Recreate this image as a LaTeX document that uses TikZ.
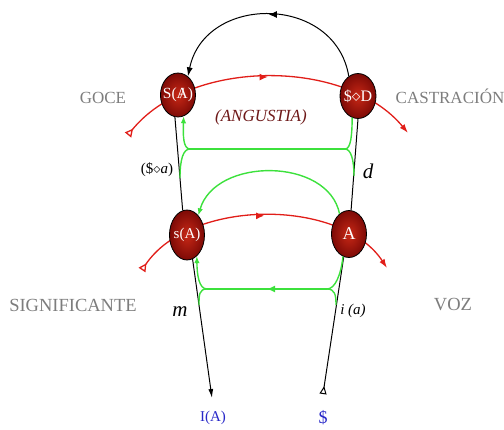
\documentclass[tikz,border=0pt]{standalone}
\usepackage{fontspec}
\setmainfont{Liberation Serif}
\usetikzlibrary{arrows.meta,shapes.geometric,decorations.markings}
\definecolor{rline}{RGB}{225,30,25}
\definecolor{gline}{RGB}{60,225,60}
\definecolor{lgray}{RGB}{125,125,125}
\definecolor{angc}{RGB}{110,25,25}
\definecolor{bluec}{RGB}{40,40,200}
\newcommand\fs[1]{\fontsize{#1}{#1}\selectfont}
\newcommand\barA{\ooalign{A\cr\hidewidth/\hidewidth\cr}}
\begin{document}
\begin{tikzpicture}[x=1pt,y=-1pt,
 ball/.style={ellipse, draw=black, line width=0.8pt,
   inner color={rgb,255:red,200;green,40;blue,22},
   outer color={rgb,255:red,125;green,10;blue,6},
   minimum width=35pt, minimum height=45pt, inner sep=0pt},
 balltext/.style={text=white, inner sep=0pt},
 blk/.style={color=black, line width=1pt},
 rln/.style={color=rline, line width=1.3pt},
 grn/.style={color=gline, line width=1.4pt},
 midarrow/.style={postaction={decorate}, decoration={markings,
   mark=at position #1 with {\arrow{Latex[length=8pt,width=7pt]}}}},
 lab/.style={text=lgray, font=\fs{17}},
]
\useasboundingbox (0,0) rectangle (504,429);
% red curves (behind the balls)
\coordinate (gStart) at (128,135);
\coordinate (cEnd) at (408,133);
\coordinate (sStart) at (142,270);
\coordinate (vEnd) at (387,268);
\draw[rln, midarrow=0.5, {Triangle[open,reversed,length=8pt,width=8pt]}-{Latex[length=9pt,width=6pt]}]
  (gStart) .. controls (190,58) and (346,58) .. (cEnd);
\draw[rln, midarrow=0.5, {Triangle[open,reversed,length=8pt,width=8pt]}-{Latex[length=9pt,width=6pt]}]
  (sStart) .. controls (190,198) and (341,198) .. (vEnd);
% balls
\node[ball, minimum height=44pt] (SA) at (178,95) {};
\node[ball, minimum height=45pt, minimum width=36pt] (SD) at (358,96) {};
\node[ball, minimum height=50pt] (sA) at (187,235) {};
\node[ball, minimum height=47pt] (A) at (349,234) {};
\node[balltext, font=\fs{15.5}] (SAt) at (SA) {S(\barA)};
\node[balltext, font=\fs{16}] (SDt) at (SD) {\$$\diamond$D};
\node[balltext, font=\fs{15}] (sAt) at (sA) {s(A)};
\node[balltext, font=\fs{18}] (At) at (A) {A};
% black lines
\coordinate (IAend) at (212,398);
\coordinate (Sbot) at (323,394);
\draw[blk] (SA.262) -- (sA.100);
\draw[blk, -{Latex[length=9pt,width=5pt]}] (sA.283) -- (IAend);
\draw[blk, {Triangle[open,reversed,length=8pt,width=7pt]}-] (Sbot) -- (A.257);
\draw[blk] (A.85) -- (SD.270);
\draw[blk, midarrow=0.5, -{Latex[length=9pt,width=6pt]}] (SD.115) .. controls (335,-6) and (205,-6) .. (SA.62);
% green
\coordinate (L1) at (190,149);
\coordinate (R1) at (345,149);
\coordinate (L2) at (207,289);
\coordinate (R2) at (327,289);
\coordinate (L1b) at (180,178);
\coordinate (R1b) at (354,176);
\coordinate (L2b) at (199,305);
\coordinate (R2b) at (336,305);
\draw[grn] (R1) -- (L1);
\draw[grn, -{Latex[length=7pt,width=5.5pt]}] (L1) .. controls (183,149) and (183,135) .. (SA.285);
\draw[grn] (L1) .. controls (183,149) and (180,160) .. (L1b);
\draw[grn] (R1) .. controls (351,149) and (352,135) .. (SD.255);
\draw[grn] (R1) .. controls (351,149) and (354,160) .. (R1b);
\draw[grn, -{Latex[length=7pt,width=5.5pt]}] (A.115) .. controls (328,157) and (215,157) .. (sA.60);
\draw[grn, midarrow=0.5] (R2) -- (L2);
\draw[grn, -{Latex[length=7pt,width=5.5pt]}] (L2) .. controls (199,289) and (197,275) .. (sA.295);
\draw[grn] (L2) .. controls (199,289) and (199,295) .. (L2b);
\draw[grn] (R2) .. controls (335,289) and (341,275) .. (A.255);
\draw[grn] (R2) .. controls (335,289) and (336,295) .. (R2b);
% labels
\node[lab] (goce) at (103,98) {GOCE};
\node[lab] (castr) at (450,96) {CASTRACIÓN};
\node[text=angc, font=\fs{17}\itshape] (ang) at (261,117) {(ANGUSTIA)};
\node[lab, font=\fs{18.5}] (sig) at (73,305) {SIGNIFICANTE};
\node[lab, font=\fs{18.5}] (voz) at (453,305) {VOZ};
\node[font=\fs{15}] (sal) at (157,170) {(\$$\diamond$\textit{a})};
\node[font=\fs{21}\itshape] (dl) at (368,171) {d};
\node[font=\fs{21}\itshape] (ml) at (180,312) {m};
\node[font=\fs{15}\itshape] (ial) at (353,311) {i (a)};
\node[text=bluec, font=\fs{15}] (IA) at (213,418) {I(A)};
\node[text=bluec, font=\fs{18}] (Sb) at (323,418) {\$};
\end{tikzpicture}
\end{document}
